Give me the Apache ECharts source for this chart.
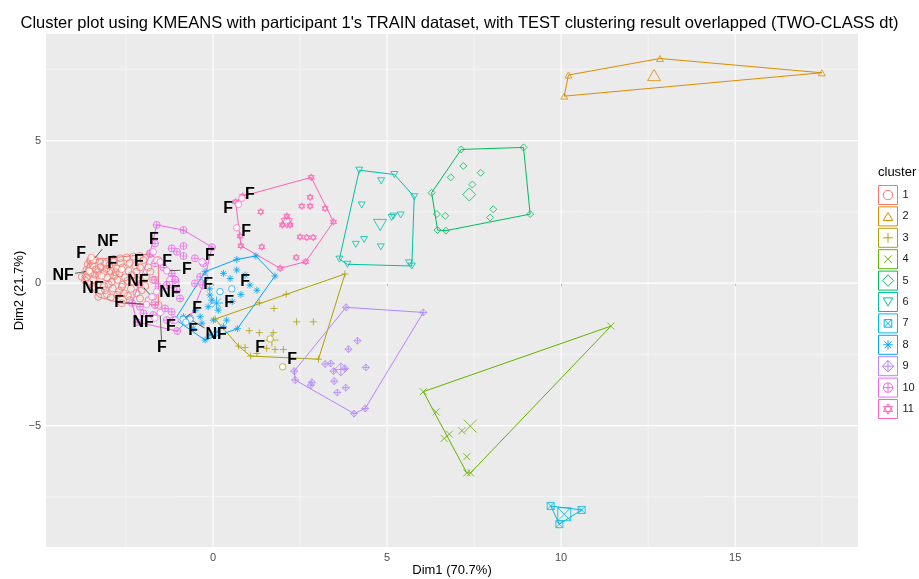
<!DOCTYPE html>
<html>
<head>
<meta charset="utf-8">
<script src="https://cdn.jsdelivr.net/npm/echarts@6/dist/echarts.min.js"></script>
<style>
html,body{margin:0;padding:0;background:#fff;}
#mycharts{width:919px;height:579px;}
</style>
</head>
<body>
<div id="mycharts"></div>
<script>
// axis ticks
var xMajor = [0, 5, 10, 15];
var xMinor = [-2.5, 2.5, 7.5, 12.5, 17.5];
var yMajor = [-5, 0, 5];
var yMinor = [-7.5, -2.5, 2.5, 7.5];

var clusterNames = ['1', '2', '3', '4', '5', '6', '7', '8', '9', '10', '11'];
var colors = ['#F8766D', '#DB8E00', '#AEA200', '#64B200', '#00BD5C', '#00C1A7', '#00BADE', '#00A6FF', '#B385FF', '#EF67EB', '#FF63B6'];

// ggplot shapes 1..11 drawn as paths
var shapes = [
	'M5,10A5,5,0,1,1,15,10A5,5,0,1,1,5,10Z',
	'M10,5.7L15,14.3L5,14.3Z',
	'M10,5L10,15M5,10L15,10',
	'M6,6L14,14M14,6L6,14',
	'M10,4L16,10L10,16L4,10Z',
	'M5,5.7L15,5.7L10,14.3Z',
	'M6,6L14,6L14,14L6,14ZM6,6L14,14M14,6L6,14',
	'M10,5L10,15M5,10L15,10M6.5,6.5L13.5,13.5M13.5,6.5L6.5,13.5',
	'M10,4L16,10L10,16L4,10ZM10,4L10,16M4,10L16,10',
	'M5,10A5,5,0,1,1,15,10A5,5,0,1,1,5,10ZM10,5L10,15M5,10L15,10',
	'M10,4.5L14.8,12.75L5.2,12.75ZM10,15.5L14.8,7.25L5.2,7.25Z'
];

// TRAIN points of each cluster
var pts1 = [[-3.77,0.22],[-3.53,0.81],[-1.81,1.02],[-1.57,0.81],[-1.57,-0.77],[-2.62,-0.71],[-3.30,-0.48],
	[-3.53,0.75],[-3.39,0.81],[-3.25,0.75],[-2.67,0.87],[-2.48,0.90],[-2.29,0.93],[-2.10,0.95],
	[-3.64,0.46],[-3.53,0.36],[-3.36,0.48],[-3.23,0.57],[-3.07,0.50],[-2.94,0.43],[-2.76,0.51],[-2.59,0.55],[-2.43,0.43],[-2.24,0.63],[-2.10,0.55],
	[-3.63,0.20],[-3.44,0.13],[-3.27,0.28],[-3.05,0.20],[-2.84,0.25],[-2.69,0.34],[-2.53,0.20],[-2.34,0.28],
	[-3.32,-0.04],[-3.13,-0.11],[-2.91,0.05],[-2.75,0.11],[-2.46,0.08],
	[-3.23,-0.27],[-3.05,-0.39],[-2.88,-0.19],[-2.62,-0.13],[-2.94,-0.50],[-2.75,-0.42],[-2.56,-0.36],[-2.36,-0.20],[-2.12,-0.04],
	[-1.93,0.22],[-1.86,0.55],[-2.00,0.81],[-3.68,0.10],[-3.45,-0.13],[-3.60,0.66],[-3.10,0.69],[-2.86,0.75],[-2.19,0.11],[-2.05,-0.25],[-2.39,-0.60],[-2.10,-0.54],[-1.72,-0.48],[-1.72,0.11],
	[-3.46,0.62],[-3.30,0.40],[-3.15,0.35],[-2.98,0.62],[-2.80,0.38],[-2.65,0.70],[-2.40,0.70],[-2.30,0.05],[-2.60,-0.05],[-3.00,-0.05],
	[-3.40,0.30],[-2.45,-0.45],[-2.20,0.40],[-1.95,-0.10],[-1.80,0.40],[-3.10,-0.25],[-2.70,-0.28],[-2.20,-0.35],[-1.85,-0.60],[-2.85,0.85]];
var pts2 = [[10.21,7.30],[12.84,7.88],[17.49,7.38],[10.09,6.56]];
var pts3 = [[3.79,0.32],[2.10,-0.39],[1.33,-0.69],[1.75,-0.89],[2.40,-1.36],[2.88,-1.36],[1.04,-1.67],[1.33,-1.74],[1.73,-1.74],
	[1.54,-2.29],[1.78,-2.33],[2.02,-2.33],[0.92,-2.26],[1.26,-2.47],[3.03,-2.67],[1.08,-2.56],[0.73,-2.21],[0.06,-1.26]];
var pts4 = [[11.43,-1.51],[6.04,-3.81],[6.41,-4.52],[6.79,-5.30],[6.64,-5.45],[7.15,-5.18],[7.29,-6.09],[7.29,-6.66],[7.40,-6.66]];
var pts5 = [[7.13,4.69],[8.92,4.76],[9.11,2.42],[6.69,1.84],[6.45,1.86],[6.28,3.17],[7.19,4.11],[7.69,3.87],[6.83,3.71],[7.45,3.46],
	[8.05,2.59],[7.96,2.30],[6.67,2.36],[6.43,2.42]];
var pts6 = [[4.20,3.96],[5.21,3.81],[5.78,3.03],[5.71,0.60],[3.86,0.66],[3.63,0.84],[4.83,3.59],[4.27,2.74],[5.13,2.30],[5.18,2.35],
	[5.39,2.39],[4.34,1.53],[4.10,1.36],[4.82,1.27],[5.63,0.71]];
var pts7 = [[9.70,-7.82],[10.59,-7.96],[9.95,-8.46]];
var pts8 = [[-0.23,0.40],[0.68,0.83],[1.23,0.95],[1.78,0.25],[0.70,-1.60],[-0.23,-2.00],[-1.09,-1.27],
	[0.30,0.34],[0.68,0.46],[0.92,0.28],[0.49,0.16],[1.06,-0.07],[1.26,-0.25],[-0.09,-0.42],[-0.04,-0.60],[-0.14,-0.83],
	[0.15,-0.95],[0.39,-1.30],[0.01,-1.30],[-0.37,-1.18],[-0.32,-1.41],[-0.85,-1.18],[0.30,-1.53],[0.11,-1.71],[-0.09,-1.82],
	[-0.57,-1.59],[-0.10,-0.20],[0.55,-0.65],[0.80,-0.40],[-0.50,-0.95]];
var pts9 = [[3.82,-0.85],[6.04,-1.03],[4.37,-4.40],[4.05,-4.58],[2.36,-3.40],[2.33,-3.09],[4.15,-2.02],[3.89,-2.32],[3.22,-2.84],
	[3.38,-2.82],[3.46,-3.09],[3.79,-2.99],[4.39,-2.96],[3.48,-3.44],[2.84,-3.48],[2.81,-3.58],[3.81,-3.67],[3.57,-3.84]];
var pts10 = [[-1.62,2.04],[-0.85,1.86],[-0.03,1.26],[-0.29,-0.07],[-0.66,-1.23],[-1.03,-1.68],[-2.18,-1.37],[-2.33,-0.70],[-1.81,1.05],
	[-1.67,1.39],[-1.19,1.22],[-0.85,1.30],[-1.04,1.10],[-0.85,0.95],[-0.52,0.87],[-0.28,0.69],[-1.67,0.69],[-1.43,0.55],
	[-1.19,0.34],[-1.09,0.11],[-1.33,-0.07],[-1.67,0.11],[-1.57,-0.13],[-1.04,-0.25],[-0.95,-0.54],[-1.67,-0.77],[-1.38,-0.89],
	[-1.19,-1.01],[-1.33,-1.30],[-1.14,-1.30],[-1.72,-1.12],[-2.00,-1.06],[-2.10,-0.83],[-0.52,-0.01],[-0.37,0.22]];
var pts11 = [[2.82,3.71],[3.46,2.15],[2.66,0.75],[1.93,0.52],[0.80,1.31],[0.65,2.85],[0.85,3.05],[2.79,3.01],[2.55,2.70],[2.79,2.70],
	[1.37,2.50],[3.22,2.62],[2.50,1.62],[2.69,1.60],[2.88,1.60],[1.40,1.27],[2.39,0.90],[0.78,1.65],[1.99,2.04],[2.21,2.04],[2.12,2.35]];
var trainPts = [pts1, pts2, pts3, pts4, pts5, pts6, pts7, pts8, pts9, pts10, pts11];

// convex hull vertices of each cluster
var hull1 = [[-3.77,0.22],[-3.53,0.81],[-1.81,1.02],[-1.57,0.81],[-1.57,-0.77],[-2.62,-0.71],[-3.30,-0.48]];
var hull2 = [[10.09,6.56],[10.21,7.30],[12.84,7.88],[17.49,7.38]];
var hull3 = [[3.79,0.32],[3.03,-2.67],[1.08,-2.56],[0.73,-2.21],[0.06,-1.26]];
var hull4 = [[11.43,-1.51],[6.04,-3.81],[7.29,-6.66],[7.40,-6.66]];
var hull5 = [[7.13,4.69],[8.92,4.76],[9.11,2.42],[6.69,1.84],[6.45,1.86],[6.28,3.17]];
var hull6 = [[4.20,3.96],[5.21,3.81],[5.78,3.03],[5.71,0.60],[3.86,0.66],[3.63,0.84]];
var hull7 = [[9.70,-7.82],[10.59,-7.96],[9.95,-8.46]];
var hull8 = [[-0.23,0.40],[0.68,0.83],[1.23,0.95],[1.78,0.25],[0.70,-1.60],[-0.23,-2.00],[-1.09,-1.27]];
var hull9 = [[3.82,-0.85],[6.04,-1.03],[4.37,-4.40],[4.05,-4.58],[2.36,-3.40],[2.33,-3.09]];
var hull10 = [[-1.62,2.04],[-0.85,1.86],[-0.03,1.26],[-0.29,-0.07],[-0.66,-1.23],[-1.03,-1.68],[-2.18,-1.37],[-2.33,-0.70],[-1.81,1.05]];
var hull11 = [[2.82,3.71],[3.46,2.15],[2.66,0.75],[1.93,0.52],[0.80,1.31],[0.65,2.85],[0.85,3.05]];
var hulls = [hull1, hull2, hull3, hull4, hull5, hull6, hull7, hull8, hull9, hull10, hull11];

// cluster centres
var centers = [[-3.05,0.30],[12.67,7.30],[1.69,-2.00],[7.39,-5.02],[7.36,3.11],[4.80,2.04],[10.09,-8.11],[0.10,-0.70],[3.67,-3.03],[-1.16,0.05],[2.12,2.15]];

// TEST points: x, y, cluster
var testPts = [[-3.44,0.81,1],[-3.56,0.42,1],[-3.50,0.90,1],[-3.20,0.25,1],[-2.62,0.48,1],
	[-1.72,1.10,10],[-1.62,0.80,10],[-1.52,0.74,10],[-1.33,0.43,10],[-0.32,0.75,10],[-1.76,-0.48,10],[-1.91,-0.75,10],
	[-1.52,-1.04,10],[-1.67,-1.23,10],[-0.86,-1.27,8],[-0.66,-1.27,8],[-1.09,-1.30,10],[-0.78,-1.37,8],[-1.62,-0.30,10],
	[0.20,-0.30,8],[0.54,-0.20,8],[-0.23,0.18,8],
	[0.73,2.76,11],[0.83,2.98,11],[0.68,1.94,11],[1.64,-1.96,3],[2.00,-2.94,3]];
var testLabels = ['NF','NF','F','NF','F','F','F','F','F','F','NF','F','F','NF','F','NF','F','F','NF','F','F','F','F','F','F','F','F'];
// repelled label position (x, y) and whether a segment is drawn
var labelPos = [[-3.02,1.44,1],[-4.31,0.28,1],[-3.79,1.05,0],[-3.45,-0.21,0],[-2.90,0.70,0],
	[-1.70,1.54,0],[-2.13,0.77,0],[-1.32,0.77,0],[-0.75,0.46,1],[-0.09,0.95,0],[-2.16,0.07,1],[-2.70,-0.67,1],
	[-1.47,-2.28,1],[-2.01,-1.40,0],[-0.46,-0.91,1],[0.09,-1.82,1],[-1.21,-1.54,0],[-0.57,-1.65,0],[-1.24,-0.35,0],
	[0.46,-0.67,0],[0.92,0.07,0],[-0.14,-0.07,0],
	[0.43,2.63,0],[1.06,3.12,0],[0.95,1.79,0],[1.35,-2.25,0],[2.27,-2.67,0]];

function Drawchart() {
	var myChart = echarts.init(document.getElementById('mycharts'));
	var font = '"Liberation Sans", Arial, sans-serif';

	var gridData = [];
	xMinor.forEach(function(v) { gridData.push([v, 0, 0]); });
	yMinor.forEach(function(v) { gridData.push([v, 1, 0]); });
	xMajor.forEach(function(v) { gridData.push([v, 0, 1]); });
	yMajor.forEach(function(v) { gridData.push([v, 1, 1]); });

	var series = [];
	// background grid lines
	series.push({
		type: 'custom',
		name: 'gridlines',
		z: 1,
		silent: true,
		data: gridData,
		encode: { x: 0, y: 1 },
		renderItem: function(params, api) {
			var cs = params.coordSys;
			var v = api.value(0);
			var shape;
			if (api.value(1) === 0) {
				var x = api.coord([v, 0])[0];
				shape = { x1: x, y1: cs.y, x2: x, y2: cs.y + cs.height };
			} else {
				var y = api.coord([0, v])[1];
				shape = { x1: cs.x, y1: y, x2: cs.x + cs.width, y2: y };
			}
			return {
				type: 'line',
				shape: shape,
				style: { stroke: '#ffffff', lineWidth: api.value(2) ? 1.1 : 0.5 }
			};
		}
	});

	for (var k = 0; k < 11; k++) {
		var closed = hulls[k].concat([hulls[k][0]]);
		series.push({
			type: 'line',
			name: 'hull' + clusterNames[k],
			data: closed,
			z: 2,
			symbol: 'none',
			silent: true,
			lineStyle: { color: colors[k], width: 1 }
		});
		series.push({
			type: 'scatter',
			name: clusterNames[k],
			data: trainPts[k],
			z: 3,
			symbol: 'path://' + shapes[k],
			symbolKeepAspect: true,
			symbolSize: 7,
			itemStyle: { color: 'rgba(0,0,0,0)', borderColor: colors[k], borderWidth: 0.8, opacity: 1 }
		});
		series.push({
			type: 'scatter',
			name: 'centre' + clusterNames[k],
			data: [centers[k]],
			z: 3,
			symbol: 'path://' + shapes[k],
			symbolKeepAspect: true,
			symbolSize: 13,
			itemStyle: { color: 'rgba(0,0,0,0)', borderColor: colors[k], borderWidth: 1 }
		});
	}

	// TEST points
	series.push({
		type: 'scatter',
		name: 'test',
		z: 4,
		symbol: 'circle',
		symbolSize: 6.5,
		data: testPts.map(function(p) {
			return { value: [p[0], p[1]], itemStyle: { color: '#ffffff', borderColor: colors[p[2] - 1], borderWidth: 0.9 } };
		})
	});

	// labels with segments
	series.push({
		type: 'custom',
		name: 'labels',
		z: 5,
		silent: true,
		data: testPts.map(function(p, i) { return [p[0], p[1], labelPos[i][0], labelPos[i][1], labelPos[i][2]]; }),
		encode: { x: 0, y: 1 },
		renderItem: function(params, api) {
			var txt = testLabels[params.dataIndex];
			var p = api.coord([api.value(0), api.value(1)]);
			var l = api.coord([api.value(2), api.value(3)]);
			var children = [];
			if (api.value(4)) {
				var dx = p[0] - l[0], dy = p[1] - l[1];
				var hw = txt.length * 5.5 + 1, hh = 7;
				var t = Math.min(dx !== 0 ? hw / Math.abs(dx) : 1e9, dy !== 0 ? hh / Math.abs(dy) : 1e9);
				var len = Math.sqrt(dx * dx + dy * dy);
				if (t < 1 && len > 0) {
					children.push({
						type: 'line',
						shape: { x1: l[0] + dx * t, y1: l[1] + dy * t, x2: p[0] - dx / len * 3, y2: p[1] - dy / len * 3 },
						style: { stroke: '#222', lineWidth: 0.7 }
					});
				}
			}
			children.push({
				type: 'text',
				x: l[0],
				y: l[1],
				style: {
					text: txt,
					fill: '#000',
					fontSize: 16,
					fontWeight: 'bold',
					fontFamily: font,
					align: 'center',
					verticalAlign: 'middle'
				}
			});
			return { type: 'group', children: children };
		}
	});

	myChart.setOption({
		animation: false,
		title: {
			text: "Cluster plot using KMEANS with participant 1's TRAIN dataset, with TEST clustering result overlapped (TWO-CLASS dt)",
			left: 'center',
			top: 10,
			textStyle: { fontSize: 16.5, fontWeight: 'normal', color: '#000', fontFamily: font }
		},
		grid: {
			left: 46, right: 61, top: 34, bottom: 32,
			outerBoundsMode: 'none',
			show: true, backgroundColor: '#EBEBEB', borderWidth: 0
		},
		legend: {
			orient: 'vertical',
			left: 873,
			top: 180,
			itemWidth: 19,
			itemHeight: 19,
			itemGap: 1.4,
			textStyle: { fontSize: 11, color: '#1A1A1A', fontFamily: font },
			data: clusterNames.map(function(n, i) {
				return {
					name: n,
					icon: 'path://M0,0L20,0L20,20L0,20Z' + shapes[i],
					itemStyle: { color: 'rgba(0,0,0,0)', borderColor: colors[i], borderWidth: 1 }
				};
			})
		},
		graphic: [{
			type: 'text',
			left: 878,
			top: 166,
			style: { text: 'cluster', fontSize: 13, fill: '#000', fontFamily: font }
		}],
		xAxis: {
			type: 'value',
			min: -4.8,
			max: 18.53,
			name: 'Dim1 (70.7%)',
			nameLocation: 'middle',
			nameGap: 17,
			nameMoveOverlap: false,
			nameTextStyle: { fontSize: 13, color: '#000', fontFamily: font },
			axisLine: { show: false },
			splitLine: { show: false },
			axisTick: { show: true, length: 3, customValues: xMajor, lineStyle: { color: '#333' } },
			axisLabel: { customValues: xMajor, margin: 5, fontSize: 11, color: '#4D4D4D', fontFamily: font }
		},
		yAxis: {
			type: 'value',
			min: -9.26,
			max: 8.74,
			name: 'Dim2 (21.7%)',
			nameLocation: 'middle',
			nameGap: 20,
			nameRotate: 90,
			nameMoveOverlap: false,
			nameTextStyle: { fontSize: 13, color: '#000', fontFamily: font },
			axisLine: { show: false },
			splitLine: { show: false },
			axisTick: { show: true, length: 3, customValues: yMajor, lineStyle: { color: '#333' } },
			axisLabel: {
				customValues: yMajor, margin: 5, fontSize: 11, color: '#4D4D4D', fontFamily: font,
				formatter: function(v) { return v < 0 ? '\u2212' + (-v) : String(v); }
			}
		},
		series: series
	});
}
Drawchart();
</script>
</body>
</html>
